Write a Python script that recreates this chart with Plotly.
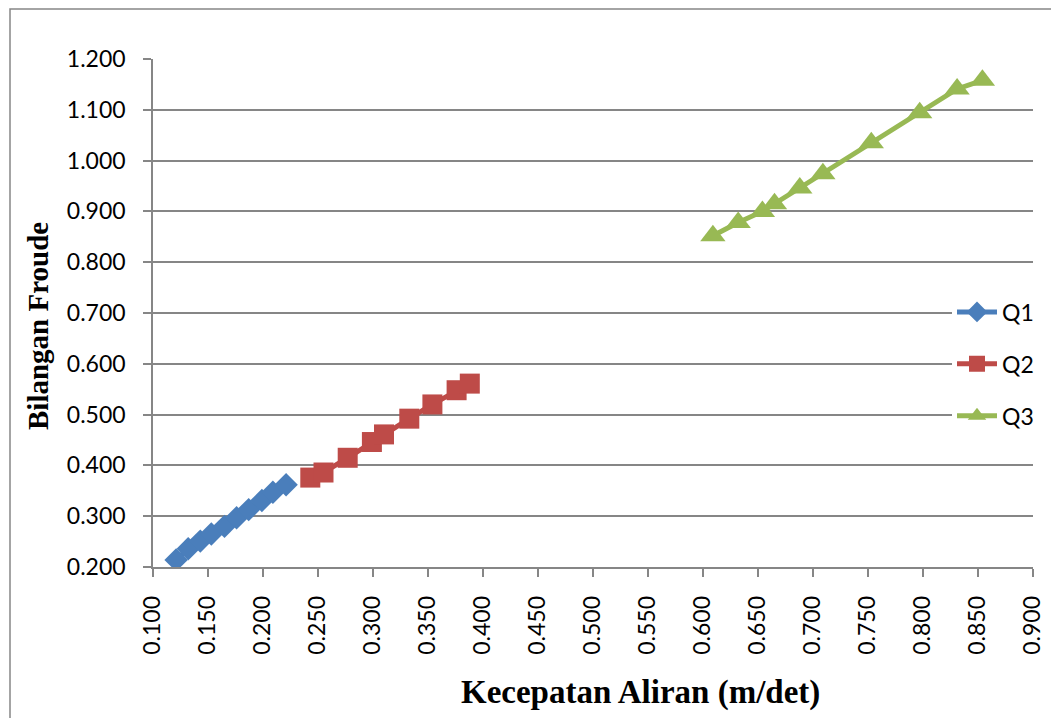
import plotly.graph_objects as go

# Data
q1_x = [0.121, 0.132, 0.143, 0.153, 0.165, 0.176, 0.187, 0.199, 0.209, 0.221]
q1_y = [0.214, 0.236, 0.251, 0.265, 0.280, 0.297, 0.313, 0.331, 0.347, 0.362]
q2_x = [0.243, 0.255, 0.277, 0.299, 0.310, 0.333, 0.354, 0.376, 0.388]
q2_y = [0.376, 0.386, 0.415, 0.446, 0.461, 0.492, 0.520, 0.548, 0.561]
q3_x = [0.609, 0.632, 0.654, 0.665, 0.688, 0.709, 0.753, 0.797, 0.831, 0.854]
q3_y = [0.852, 0.878, 0.900, 0.915, 0.946, 0.974, 1.035, 1.094, 1.141, 1.158]

series_names = ["Q1", "Q2", "Q3"]
x_title = "Kecepatan Aliran (m/det)"
y_title = "Bilangan Froude"

# page body has an 8px margin, so the figure origin sits at (8, 8) of the window
OFF = 8
W, H = 1059 - OFF, 718 - OFF
PL, PR, PT, PB = 153, 1033, 59, 567          # plot area in window pixels
L, T = PL - OFF, PT - OFF
R, B = W - (PR - OFF), H - (PB - OFF)


def px_x(xw):
    return (xw - PL) / (PR - PL)


def px_y(yw):
    return (PB - yw) / (PB - PT)


fig = go.Figure()
fig.add_trace(go.Scatter(x=q1_x, y=q1_y, name=series_names[0], mode="lines+markers",
                         legendgroup="g1",
                         line=dict(color="#4A7EBB", width=5),
                         marker=dict(symbol="diamond", size=18, color="#4A7EBB", line=dict(width=0))))
fig.add_trace(go.Scatter(x=q2_x, y=q2_y, name=series_names[1], mode="lines+markers",
                         legendgroup="g2",
                         line=dict(color="#BE4B48", width=5),
                         marker=dict(symbol="square", size=20, color="#BE4B48", line=dict(width=0))))
fig.add_trace(go.Scatter(x=q3_x, y=q3_y, name=series_names[2], mode="lines+markers",
                         legendgroup="g3",
                         line=dict(color="#98B954", width=5),
                         marker=dict(symbol="triangle-up", size=22, color="#98B954", line=dict(width=0))))

tick_font = dict(family="Lato, Noto Sans, sans-serif", size=23, color="#000000")
title_font = dict(family="Liberation Serif, Times New Roman, serif", color="#000000", weight="bold")

fig.update_layout(
    width=W, height=H,
    margin=dict(l=L, r=R, t=T, b=B, autoexpand=False),
    paper_bgcolor="white", plot_bgcolor="white",
    showlegend=True,
    legend=dict(x=px_x(952), xanchor="left", y=px_y(364), yanchor="middle",
                bgcolor="white", font=tick_font, traceorder="grouped",
                tracegroupgap=19, itemsizing="trace", itemwidth=40),
    xaxis=dict(range=[0.1, 0.9], dtick=0.05, tick0=0.1, tickformat=".3f",
               tickangle=-90, showgrid=False, zeroline=False,
               showline=True, linecolor="#868686", linewidth=1.5,
               ticks="outside", ticklen=8, tickcolor="#868686", tickwidth=1.5,
               ticklabelstandoff=10, tickfont=tick_font),
    yaxis=dict(range=[0.2, 1.2], dtick=0.1, tick0=0.2, tickformat=".3f",
               showgrid=True, gridcolor="#868686", gridwidth=1.5, zeroline=False,
               showline=True, linecolor="#868686", linewidth=1.5,
               ticks="outside", ticklen=8, tickcolor="#868686", tickwidth=1.5,
               ticklabelstandoff=13, tickfont=tick_font),
    annotations=[
        dict(text="<b>" + x_title + "</b>", xref="paper", yref="paper",
             x=px_x(640), y=px_y(692),
             xanchor="center", yanchor="middle", showarrow=False,
             font=dict(title_font, size=33)),
        dict(text="<b>" + y_title + "</b>", xref="paper", yref="paper",
             x=px_x(38), y=px_y(326),
             xanchor="center", yanchor="middle", showarrow=False, textangle=-90,
             font=dict(title_font, size=29)),
    ],
    shapes=[
        dict(type="rect", xref="paper", yref="paper",
             x0=px_x(10), x1=px_x(1075), y0=px_y(735), y1=px_y(9),
             line=dict(color="#868686", width=1.5), fillcolor="rgba(0,0,0,0)", layer="below"),
    ],
)

fig.write_html("out.html")
